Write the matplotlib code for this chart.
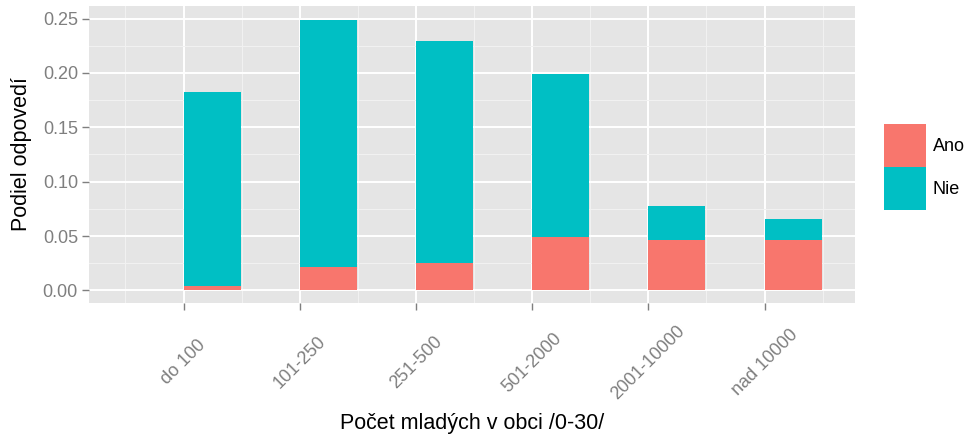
import numpy as np
import matplotlib
matplotlib.use("Agg")
import matplotlib.pyplot as plt
from matplotlib.patches import Patch
from matplotlib.ticker import MultipleLocator, FixedLocator, FormatStrFormatter

plt.rcParams['font.family'] = ['Liberation Sans', 'DejaVu Sans']

# Data
kategorie = ['do 100', '101-250', '251-500', '501-2000', '2001-10000', 'nad 10000']
ano = [0.004, 0.022, 0.0254, 0.0496, 0.0466, 0.0466]
nie = [0.1785, 0.227, 0.2036, 0.1494, 0.0314, 0.019]

farba_ano = '#F8766D'
farba_nie = '#00BFC4'
sediva = '#7F7F7F'

fig = plt.figure(figsize=(9.68, 4.34), dpi=100)
ax = fig.add_axes([89 / 968, (434 - 303) / 434, 766 / 968, 297 / 434])

x = np.arange(len(kategorie))
ax.bar(x, ano, width=0.49, align='edge', color=farba_ano, linewidth=0)
ax.bar(x, nie, width=0.49, align='edge', bottom=ano, color=farba_nie, linewidth=0)

# panel v style ggplot
ax.set_facecolor('#E5E5E5')
for s in ax.spines.values():
    s.set_visible(False)
ax.set_axisbelow(True)

ax.set_xlim(-0.814, 5.778)
ax.set_ylim(-0.0115, 0.2615)

ax.set_xticks(x)
ax.set_xticklabels(kategorie)
ax.xaxis.set_minor_locator(FixedLocator(np.arange(-0.5, len(kategorie), 1.0)))
ax.yaxis.set_major_locator(MultipleLocator(0.05))
ax.yaxis.set_minor_locator(FixedLocator(np.arange(0.025, 0.25, 0.05)))
ax.yaxis.set_major_formatter(FormatStrFormatter('%.2f'))

ax.grid(which='major', color='white', linewidth=1.4)
ax.grid(which='minor', color='#F2F2F2', linewidth=0.7)

ax.tick_params(which='major', length=5, width=1, color=sediva,
               labelcolor=sediva, labelsize=13)
ax.tick_params(which='minor', length=0)
ax.tick_params(axis='y', pad=3)
ax.tick_params(axis='x', pad=38)
for lbl in ax.get_xticklabels():
    lbl.set_rotation(45)
    lbl.set_rotation_mode('anchor')
    lbl.set_ha('center')
    lbl.set_va('center')

ax.set_ylabel('Podiel odpovedí', fontsize=15.5, color='black')
ax.yaxis.set_label_coords(-0.0744, 0.5)
ax.set_xlabel('Počet mladých v obci /0-30/', fontsize=15.5, color='black', va='baseline')
ax.xaxis.set_label_coords(0.5, -0.425)

handles = [Patch(facecolor=farba_ano, edgecolor='none', label='Ano'),
           Patch(facecolor=farba_nie, edgecolor='none', label='Nie')]
fs = 13 * 100 / 72
# vyska kluca v legende = fs * (0.65 * handleheight + 0.245)
hh = (43 / fs - 0.245) / 0.65
fig.legend(handles=handles, loc='upper left',
           bbox_to_anchor=(884 / 968, (434 - 124) / 434),
           frameon=False, fontsize=13, handlelength=42 / fs, handleheight=hh,
           labelspacing=0, handletextpad=7 / fs, borderpad=0, borderaxespad=0)

fig.savefig('out.png', dpi=100)
